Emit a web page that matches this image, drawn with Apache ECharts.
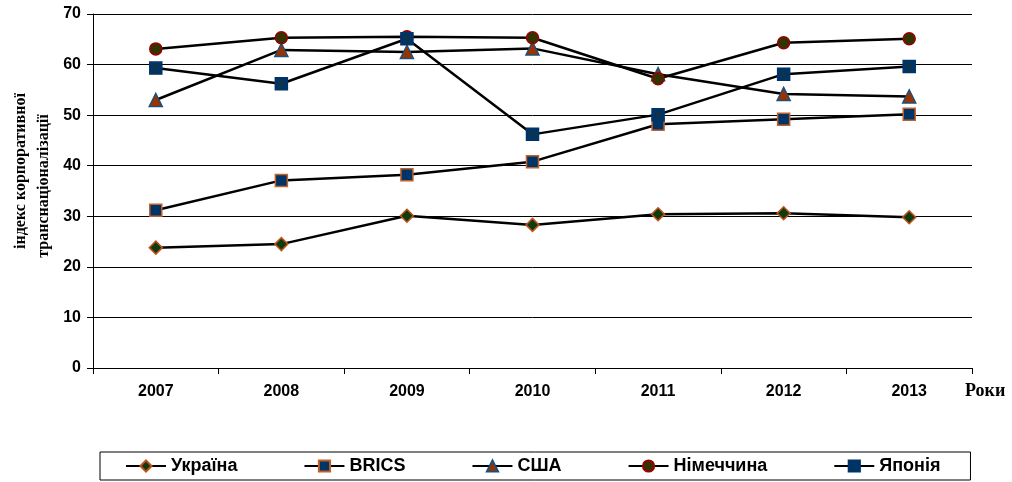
<!DOCTYPE html>
<html><head><meta charset="utf-8">
<script src="https://cdn.jsdelivr.net/npm/echarts@6/dist/echarts.min.js"></script>
<style>html,body{margin:0;padding:0;background:#fff}#c{width:1012px;height:482px}</style>
</head><body><div id="c"></div>
<script>
const years = ['2007','2008','2009','2010','2011','2012','2013'];
const ukraine = [23.8, 24.5, 30.1, 28.3, 30.4, 30.6, 29.8];
const brics   = [31.2, 37.1, 38.2, 40.8, 48.2, 49.2, 50.2];
const usa     = [53.0, 62.9, 62.5, 63.2, 58.1, 54.2, 53.7];
const germany = [63.1, 65.3, 65.5, 65.3, 57.2, 64.3, 65.1];
const japan   = [59.3, 56.2, 65.1, 46.2, 50.1, 58.1, 59.6];
const yTicks = { min: 0, max: 70, interval: 10 };
const names = ['Україна','BRICS','США','Німеччина','Японія'];

const sans = '"Liberation Sans", Arial, sans-serif';
const serif = '"Liberation Serif", "Times New Roman", serif';
const chart = echarts.init(document.getElementById('c'), null, {renderer:'canvas'});

function lineSeries(name, data, symbol, size, fill, border) {
  return {
    name, type:'line', data, symbol, symbolSize:size, showSymbol:true,
    lineStyle:{color:'#000', width:2.5},
    itemStyle:{color:fill, borderColor:border, borderWidth:1.5},
    emphasis:{disabled:true}, z:3, animation:false
  };
}

chart.setOption({
  animation:false,
  backgroundColor:'#fff',
  grid:{left:93, right:40, top:14, bottom:114},
  xAxis:{
    type:'category', data:years, boundaryGap:true,
    axisLine:{lineStyle:{color:'#000', width:1}},
    axisTick:{show:true, length:6, lineStyle:{color:'#000'}},
    axisLabel:{color:'#000', fontFamily:sans, fontWeight:'bold', fontSize:16, margin:16},
    splitLine:{show:false}
  },
  yAxis:{
    type:'value', min:yTicks.min, max:yTicks.max, interval:yTicks.interval,
    axisLine:{show:true, lineStyle:{color:'#000', width:1}},
    axisTick:{show:true, length:6, lineStyle:{color:'#000'}},
    axisLabel:{color:'#000', fontFamily:sans, fontWeight:'bold', fontSize:16, margin:12},
    splitLine:{show:true, lineStyle:{color:'#000', width:1}}
  },
  legend:{
    data:names, left:100, top:452,
    padding:[5, 30, 5, 25], itemGap:66, itemWidth:40, itemHeight:14,
    borderColor:'#000', borderWidth:1, borderRadius:0,
    textStyle:{color:'#000', fontFamily:sans, fontWeight:'bold', fontSize:18}
  },
  graphic:[
    {type:'text', x:21, y:171, rotation:Math.PI/2,
     style:{text:'індекс корпоративної', font:'bold 16px '+serif, fill:'#000', textAlign:'center', textVerticalAlign:'middle'}},
    {type:'text', x:44, y:186, rotation:Math.PI/2,
     style:{text:'транснаціоналізації', font:'bold 16px '+serif, fill:'#000', textAlign:'center', textVerticalAlign:'middle'}},
    {type:'text', x:965, y:391,
     style:{text:'Роки', font:'bold 18px '+serif, fill:'#000', textAlign:'left', textVerticalAlign:'middle'}}
  ],
  series:[
    lineSeries(names[0], ukraine, 'diamond', 13, '#0d3d0d', '#c0501f'),
    lineSeries(names[1], brics, 'rect', 12, '#003366', '#c0602a'),
    lineSeries(names[2], usa, 'triangle', 13, '#993300', '#1f4e79'),
    lineSeries(names[3], germany, 'circle', 12, '#333300', '#990000'),
    lineSeries(names[4], japan, 'rect', 12, '#003366', '#003366'),
    {
      name:'_jx', type:'scatter', data:japan, silent:true, z:5,
      symbol:'path://M0,0 L2,0 L5,3 L8,0 L10,0 L6,4 L6,6 L10,10 L8,10 L5,7 L2,10 L0,10 L4,6 L4,4 Z',
      symbolSize:[6,6], itemStyle:{color:'#333300'}, animation:false
    }
  ]
});
</script></body></html>
